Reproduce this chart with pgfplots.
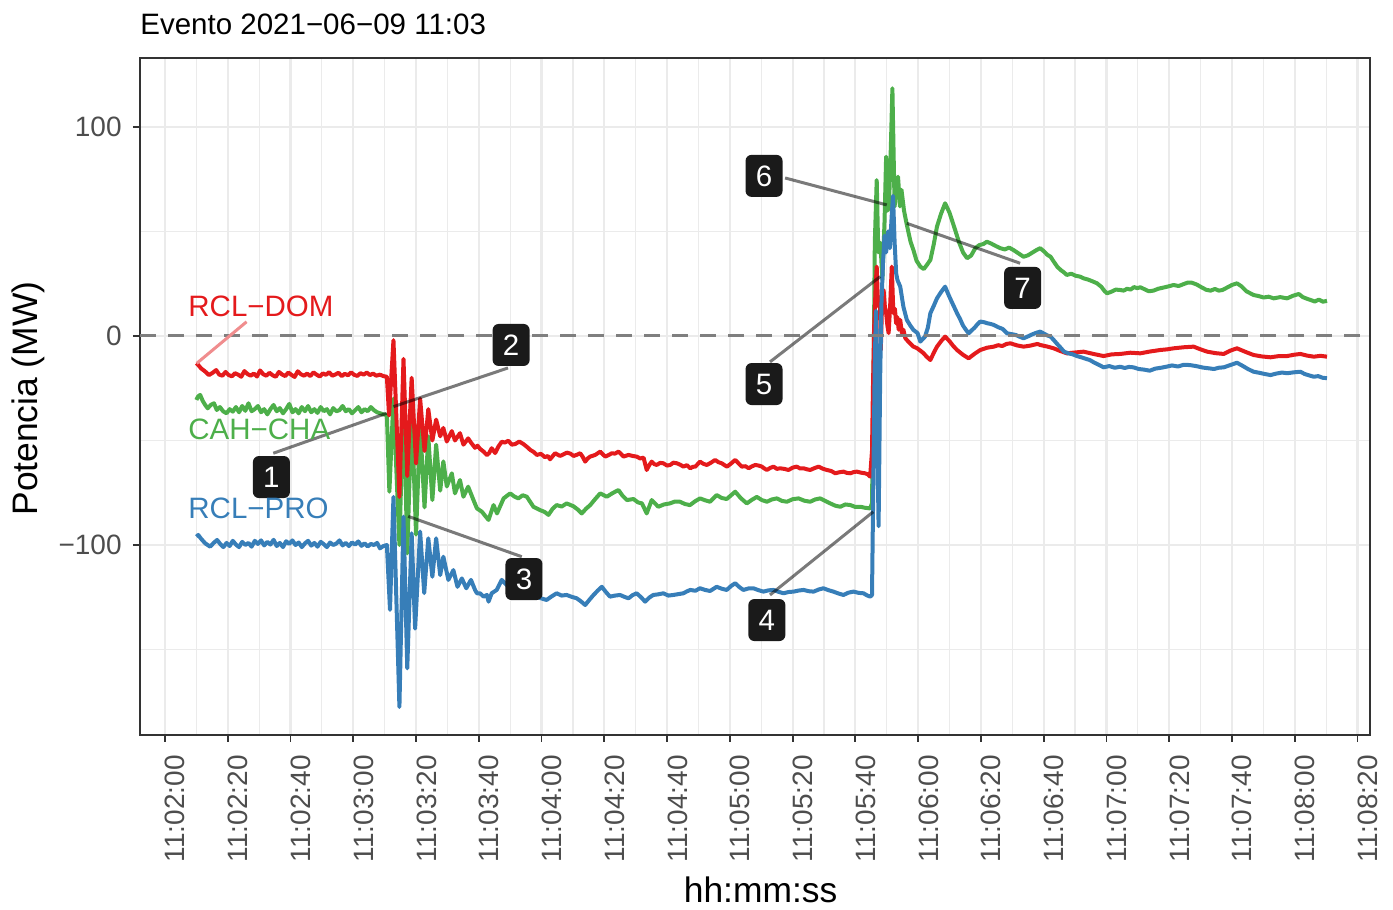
\documentclass[border=0pt]{standalone}
\usepackage{fontspec}
\setmainfont{Liberation Sans}
\usepackage{pgfplots}
\pgfplotsset{compat=1.18}
\definecolor{cred}{HTML}{E41A1C}
\definecolor{cblue}{HTML}{377EB8}
\definecolor{cgreen}{HTML}{4DAF4A}
\definecolor{gridc}{HTML}{EBEBEB}
\definecolor{grey20}{HTML}{333333}
\definecolor{grey30}{HTML}{4D4D4D}
\definecolor{grey50}{HTML}{7F7F7F}
\definecolor{boxc}{HTML}{1A1A1A}
\definecolor{lightred}{HTML}{F08D8E}

\pgfplotstableread{
s v
10.0 -13
10.6 -13.9
11.5 -15.5
12.8 -17
14.0 -18.7
15.3 -17.5
16.3 -16.3
17.3 -18.5
18.3 -19
19.3 -17.2
20.3 -18.7
21.3 -19.3
22.3 -17.8
23.3 -18.5
24.3 -19.5
25.3 -16.8
26.3 -18.2
27.3 -19
28.3 -18
29.3 -19.4
30.3 -16.5
31.3 -18.3
32.3 -19
33.3 -17.6
34.3 -18.8
35.3 -19.5
36.3 -17.2
37.3 -18.4
38.3 -19.2
39.3 -17.5
40.3 -18.6
41.3 -19.6
42.3 -16.9
43.3 -18.3
44.3 -19
45.3 -18
46.3 -19.2
47.3 -17.4
48.3 -18.5
49.3 -19.4
50.3 -17.9
51.3 -18.6
52.3 -17.3
53.3 -19
54.3 -18.4
55.3 -17.6
56.3 -19.2
57.3 -18.1
58.3 -18.8
59.3 -17.4
60.3 -18.6
61.3 -19.1
62.3 -17.8
63.3 -18.5
64.3 -17.5
65.3 -18.7
66.3 -18
67.3 -19
68.5 -18.5
69.6 -19.2
70.7 -19.5
71.4 -38
72.8 -2
74.7 -77
76.0 -11
77.2 -67
78.6 -20
80.0 -61
81.3 -30
82.7 -55
83.9 -35
85.2 -50
86.4 -40
87.7 -48
88.7 -44
89.8 -50.5
91.4 -45.5
92.4 -50
94.0 -46.5
95.1 -52
96.6 -49
97.5 -51
98.8 -53.5
99.6 -52.5
100.4 -54
101.5 -55.3
102.6 -57
103.3 -56
104.1 -53.7
105.2 -56
106.2 -53
107.3 -50.6
108.3 -51
109.4 -50.1
110.5 -52
111.6 -51.7
112.9 -50.5
114.2 -51.7
115.3 -53
116.4 -54.5
117.5 -55.5
118.5 -56.9
119.8 -56.4
121.1 -58
122.0 -57.4
122.7 -59
124.3 -56.1
125.9 -57.4
127.0 -56.6
128.1 -55.8
129.2 -56.3
130.2 -57.4
131.3 -56.8
132.3 -56.1
133.1 -57.8
133.9 -60.1
134.7 -58.6
135.5 -57.7
137.1 -56.9
138.7 -55.3
139.5 -56.6
140.3 -57.7
141.3 -57
142.4 -56.1
143.4 -56.3
144.5 -55.3
145.3 -56.4
146.1 -57.7
147.7 -56.9
149.0 -57.4
150.3 -57.7
151.4 -58.6
152.5 -58.2
153.5 -64.1
154.3 -61.8
155.1 -60.1
155.9 -61.3
156.7 -61.7
157.8 -60.7
158.8 -60.9
160.0 -62
161.0 -61.7
162.0 -60.6
163.1 -60.9
164.2 -61.6
165.2 -62.5
166.3 -61.8
167.4 -63.3
168.2 -62.6
169.0 -62.5
170.5 -60.1
171.6 -61.2
172.7 -61.7
174.0 -60.6
175.3 -59.3
176.4 -60.4
177.4 -60.9
178.3 -61.8
179.1 -62.5
180.4 -61
181.7 -59.3
182.8 -61
183.8 -62.5
185.0 -62.3
186.0 -63.3
187.0 -62.4
188.1 -61.7
189.2 -62
190.2 -62.5
191.0 -63.4
191.8 -64.1
192.9 -63.1
193.9 -62.5
195.0 -63.6
196.0 -63.3
197.4 -63.6
198.7 -64.1
200.0 -63
201.3 -62.5
202.4 -63.4
203.5 -63.3
204.6 -63.8
205.6 -64.1
207.0 -63.2
208.3 -62.5
209.6 -63.5
210.9 -64.1
212.3 -64.6
213.6 -65.7
214.9 -65.2
216.2 -64.9
217.3 -65.5
218.4 -65.7
219.5 -65.1
220.5 -64.9
221.8 -65.4
223.1 -65.7
224.0 -66.2
224.7 -67.3
225.3 -55
225.6 -25
226.0 5
226.5 25
226.8 33.2
227.1 20
227.4 14
227.8 18
228.1 -6.7
228.5 15
229.0 22
229.4 14
229.8 11
230.2 5
230.6 1.4
231.1 15
231.6 33.2
232.1 11
232.6 13
233.0 6
233.4 9
233.8 3
234.3 7.7
234.8 1.5
235.3 3
235.9 -1
236.4 -1.9
237.4 -3.5
238.5 -5.1
239.6 -5.8
240.7 -7
241.7 -8.2
242.7 -9.9
243.9 -11.5
245.0 -8
246.0 -5.1
247.3 -2.5
248.6 -0.3
250.0 -2.5
251.2 -4.8
252.4 -6.7
254.3 -9
256.1 -10.7
258.0 -8.5
259.8 -6.7
262.0 -5.6
264.1 -5.1
265.5 -4.4
266.8 -4.8
268.2 -3.8
269.4 -3.5
271.5 -4.5
273.6 -5.1
275.8 -4.6
278.0 -3.8
278.9 -4.3
281.0 -5
283.2 -5.9
285.3 -7.2
287.4 -8.3
290.0 -7.9
292.7 -7.5
295.9 -8.6
299.1 -9.6
301.7 -8.8
304.4 -8.6
307.6 -8
310.8 -8.3
314.0 -7.4
317.2 -6.7
319.3 -6.4
321.4 -5.9
324.6 -5.4
327.8 -5.1
330.0 -6.4
332.1 -7.5
334.7 -8.2
337.4 -8.6
339.5 -7
341.6 -5.9
344.3 -7.6
346.9 -9.1
349.6 -9.8
352.3 -10.2
355.0 -9.6
357.6 -9.6
359.7 -9
361.8 -8.6
364.0 -9.4
366.1 -9.9
368.2 -9.5
370.3 -9.9
}\reddata

\pgfplotstableread{
s v
10.0 -30.6
10.5 -29
11.2 -28.2
12.0 -31
12.8 -33
13.6 -34.6
14.6 -33
15.6 -32.2
16.5 -35.4
17.5 -34
18.5 -36
19.6 -37
20.6 -35
21.6 -36.2
22.6 -34
23.6 -36.5
24.6 -33.5
25.6 -35.8
26.6 -32.2
27.6 -36
28.6 -35
29.6 -33.5
30.6 -36.5
31.6 -35
32.6 -37.5
33.6 -35
34.6 -33
35.6 -36
36.6 -34.5
37.6 -37
38.6 -35
39.6 -32.5
40.6 -36.5
41.6 -35
42.6 -37
43.6 -34
44.6 -36
45.6 -33.5
46.6 -36.5
47.6 -35
48.6 -36.8
49.6 -34
50.6 -36
51.6 -35
52.6 -37.5
53.6 -34.5
54.6 -36
55.6 -35.5
56.6 -33.5
57.6 -36
58.6 -35
59.6 -37
60.6 -35.5
61.6 -34
62.6 -36.5
63.6 -35
64.6 -36
65.6 -34
66.6 -35.5
67.6 -36.5
68.6 -37
69.6 -37.5
70.7 -37.8
71.5 -74.5
72.8 -30
74.7 -100
76.0 -28
77.2 -104
78.6 -35
80.0 -95
81.3 -42
82.7 -82
83.9 -48
85.2 -78.5
86.4 -52
87.7 -74
88.7 -60
89.8 -72
91.4 -65.7
92.4 -75.3
94.0 -68.9
95.1 -76.9
96.6 -72.1
98.3 -78.5
99.4 -82.5
101.0 -84.1
102.0 -86
103.1 -88
104.7 -80.9
105.8 -84.9
107.9 -77.7
110.0 -75.3
111.3 -76.8
112.6 -77.7
114.0 -76.2
115.3 -76.9
117.4 -81.7
119.5 -83.3
121.0 -84.2
122.2 -85.6
123.5 -82.7
124.8 -80.9
126.4 -81.6
128.0 -80.1
130.2 -81.5
131.5 -83
132.8 -84.9
134.2 -82.6
135.5 -80.9
137.1 -78
138.7 -75.3
140.8 -76.9
142.6 -75.2
144.5 -73.7
145.8 -76.4
147.2 -78.5
149.3 -78
150.7 -79.6
152.0 -80.1
153.5 -84.9
155.1 -78.5
157.2 -81.7
159.0 -80.6
160.9 -80.1
162.5 -79.2
164.1 -79.3
165.7 -80.4
167.3 -80.9
168.9 -79.1
170.5 -77.7
172.1 -78.6
173.7 -79.3
175.8 -76.1
177.4 -77.5
179.0 -78
180.4 -76.2
181.7 -74.5
183.5 -77.6
185.4 -80.1
187.0 -78.4
188.6 -77
190.2 -78.5
191.8 -79.3
193.4 -78.2
195.0 -77.7
196.6 -78.9
198.2 -79.3
200.0 -78.1
201.9 -77.7
203.7 -78.8
205.6 -79.3
207.2 -78.2
208.8 -77.7
210.4 -78.9
212.0 -80.1
213.6 -81.2
215.2 -81.7
216.8 -80.6
218.4 -80.9
220.0 -81.8
221.6 -81.7
223.1 -82.2
224.7 -82.5
225.3 -80
225.8 -20
226.2 45
226.8 74.6
227.3 40
228.0 44.5
228.6 26.8
229.3 55
229.8 85.8
230.3 60
230.7 61.9
231.3 90
231.8 118.5
232.5 61.9
233.0 70
233.6 76.2
234.2 62
234.7 69.9
235.5 60
236.3 53.9
237.0 49
237.6 45
238.5 41.1
239.5 36
240.7 33.2
241.8 32
242.8 34
243.9 36.4
245.0 44
246.0 52.3
247.3 58.5
248.6 63.5
250.0 59
251.8 50.7
253.0 45
254.3 40
255.6 37.2
256.9 38.5
258.2 42
259.5 43.5
260.8 44
261.9 45.1
263.3 44.2
264.8 43
266.2 42
267.6 41.4
269.0 42.3
270.4 41.1
272.0 39.5
273.6 37.9
275.0 38.6
276.3 39.8
277.6 41
278.9 42
280.1 40.5
281.2 38.8
282.2 37.9
283.2 35.6
284.4 33
285.5 31.5
286.4 30.5
287.4 29.2
288.8 29.8
290.2 28.8
291.6 28.4
292.7 27.6
294.1 27
295.5 26.2
297.0 25.2
298.4 23.5
299.4 21.5
300.2 20.4
301.6 21.2
303.0 22.2
304.4 22
305.5 21.7
306.6 22.6
307.7 22.2
308.8 23.4
309.8 22.9
310.8 23.3
312.1 22.4
313.5 21.4
315.0 21.7
316.5 22.6
318.0 23.1
319.7 23.7
321.4 24.4
323.0 23.9
324.4 24.7
325.8 25.5
327.2 25.5
328.8 24.6
330.3 23.3
331.8 22.1
333.2 21.7
334.6 22.5
335.8 21.7
337.0 22
338.5 23.2
340.0 24.4
341.6 25.2
343.0 23.8
344.6 21.4
346.9 19.6
348.5 19.1
350.1 18.4
351.7 18.8
353.3 18
355.4 18.6
357.6 18
359.4 19.2
361.3 20.1
362.6 18.6
363.9 17.8
365.1 17.2
366.4 16.5
367.7 17.4
369.0 16.4
370.3 16.8
}\greendata

\pgfplotstableread{
s v
10.0 -96
10.6 -95.2
11.5 -97
12.8 -99.2
14.4 -100.8
15.5 -99
16.6 -97.6
17.6 -99.5
18.6 -101
19.6 -99
20.6 -100.5
21.6 -98
22.6 -99.8
23.6 -101
24.6 -98.5
25.6 -100
26.6 -99
27.6 -100.8
28.6 -98
29.6 -99.5
30.6 -97.8
31.6 -100.2
32.6 -98.5
33.6 -99.8
34.6 -97.5
35.6 -100.5
36.6 -99
37.6 -101
38.6 -98.2
39.6 -99.5
40.6 -97.8
41.6 -100
42.6 -98.8
43.6 -101
44.6 -99.2
45.6 -98
46.6 -100.3
47.6 -99
48.6 -100.8
49.6 -98.5
50.6 -99.6
51.6 -101
52.6 -98.8
53.6 -100
54.6 -99.3
55.6 -97.8
56.6 -100.2
57.6 -99
58.6 -100.5
59.6 -98.8
60.6 -99.8
61.6 -98.3
62.6 -100.4
63.6 -99.2
64.6 -100.7
65.6 -99.5
66.6 -100
67.6 -99
68.5 -101.6
69.6 -100.5
70.7 -100
71.7 -131
72.8 -77
74.7 -177.5
76.0 -86.4
77.2 -159
78.6 -94.4
79.7 -140
81.3 -93.6
82.6 -123
83.9 -96.8
85.2 -115.2
86.4 -96.8
87.7 -114.4
88.7 -105.6
90.3 -116.7
91.9 -112
93.2 -120
94.6 -116
96.0 -120.7
97.5 -116.7
98.8 -121.5
99.4 -123.1
100.4 -123.1
101.5 -124.7
102.6 -123.9
103.1 -127.1
104.1 -123.1
105.7 -121.5
107.3 -116.7
109.5 -120
111.0 -122
113.0 -124
115.5 -123
117.6 -124
119.6 -125.4
121.6 -126.3
123.2 -124.6
124.8 -123.1
126.4 -124.2
128.0 -123.9
129.6 -124.8
131.2 -125.5
132.5 -126.9
133.9 -128.7
135.2 -126.3
136.5 -124
137.9 -121.8
139.2 -120
140.5 -122.5
141.8 -124.7
143.4 -124.2
145.0 -123.9
146.4 -124.8
147.7 -125.5
149.0 -124
150.3 -123.1
151.7 -125
153.0 -127.1
154.3 -125.2
155.6 -123.9
157.2 -123.6
158.8 -123.1
160.4 -124.2
162.0 -123.9
163.6 -123.5
165.2 -123.1
166.3 -122.2
167.4 -121.5
169.0 -121.9
170.5 -120.7
172.1 -121.5
173.7 -122
175.8 -120
177.4 -120.9
179.0 -121.5
180.4 -119.6
181.7 -118.3
183.0 -120.1
184.3 -121.5
185.9 -120.8
187.5 -120.7
189.1 -121.6
190.7 -122.3
192.3 -121.7
193.9 -121.5
195.5 -122.4
197.1 -123.1
198.7 -122.5
200.3 -122.3
201.9 -121.8
203.5 -121.5
205.1 -122.1
206.7 -122.3
208.3 -121.3
209.8 -120.7
211.4 -121.6
213.0 -122.3
214.6 -123.2
216.2 -123.9
217.8 -122.8
219.4 -122.3
221.0 -122.9
222.6 -123.1
223.7 -124.1
224.7 -124.7
225.3 -124
225.8 -60
226.2 -10
226.6 12
227.0 -50
227.4 -91
227.9 -20
228.3 15
228.8 35
229.3 48
229.8 40
230.4 50
231.0 42
231.6 58
232.0 67
232.5 45
233.0 30
233.4 26.8
234.3 23.6
235.3 14
236.4 7.7
237.5 5
238.5 2.9
239.8 1.4
240.7 -2.7
242.2 -0.3
243.1 4
243.9 10.9
245.0 14.5
246.0 18
247.3 21
248.6 23.6
249.6 20
250.5 17
251.5 13.8
252.4 10.9
253.4 8
254.3 5
255.2 3
256.1 1.3
257.0 2.6
258.0 4
258.9 5.6
259.8 6.9
261.0 6.6
262.0 6.1
263.0 5.8
264.1 5.3
265.5 4.2
266.9 3.4
268.3 1.3
269.7 0.9
271.1 0.5
272.4 -0.4
273.6 -1.1
275.0 -0.2
276.4 0.8
277.6 1.5
278.9 2.1
280.0 1.2
281.1 0.3
282.2 -0.3
283.2 -1.9
284.3 -3.8
285.4 -5.6
286.5 -7.5
287.9 -8.3
289.3 -8.8
290.6 -9.6
292.0 -10.2
293.4 -10.9
294.7 -11.5
296.2 -12.8
297.6 -13.8
299.1 -15
300.9 -14.4
302.7 -15.2
304.4 -14.7
305.8 -15.3
307.2 -14.8
308.6 -15
310.3 -15.8
312.0 -16.1
313.8 -16.6
315.6 -15.6
317.4 -15.2
319.1 -14.7
320.9 -14.1
322.8 -14.6
324.6 -13.8
326.5 -13.9
328.6 -14.4
330.7 -15.1
332.8 -15.5
334.3 -15.8
335.8 -15.2
337.4 -15
339.5 -13.9
341.6 -12.8
343.3 -14.2
345.1 -15.8
346.9 -17.1
348.7 -17.6
350.5 -18.2
352.3 -18.7
354.1 -18
355.9 -17.5
357.6 -17.8
359.7 -17.4
361.8 -17.1
363.2 -18.2
364.7 -18.9
366.1 -19.5
367.5 -19.2
368.9 -20
370.3 -20.2
}\bluedata

\begin{document}
\begin{tikzpicture}
\useasboundingbox (0,0) rectangle (696.5pt,455pt);
\begin{axis}[
  at={(70pt,87.5pt)}, anchor=south west,
  scale only axis, width=615pt, height=338.5pt,
  xmin=-7.97, xmax=384.0, ymin=-190.9, ymax=133.0,
  axis line style={grey20, line width=0.9pt},
  xtick pos=bottom, ytick pos=left,
  tick align=outside, major tick length=3.5pt, minor tick length=0pt,
  tick style={grey20, line width=0.9pt},
  xtick={0,20,...,380},
  xticklabels={11:02:00,11:02:20,11:02:40,11:03:00,11:03:20,11:03:40,11:04:00,11:04:20,11:04:40,11:05:00,11:05:20,11:05:40,11:06:00,11:06:20,11:06:40,11:07:00,11:07:20,11:07:40,11:08:00,11:08:20},
  minor xtick={10,30,...,370},
  ytick={-100,0,100}, yticklabels={−100,0,100},
  minor ytick={-150,-50,50},
  grid=both,
  major grid style={gridc, line width=1.1pt},
  minor grid style={gridc, line width=0.55pt},
  xticklabel style={rotate=90, anchor=north east, inner sep=0pt, font=\fontsize{14}{16}\selectfont, text=grey30},
  yticklabel style={anchor=east, inner sep=0pt, font=\fontsize{14}{16}\selectfont, text=grey30},
  xticklabel shift=6.5pt, yticklabel shift=5.5pt,
  xlabel={hh:mm:ss},
  xlabel style={at={(axis description cs:0.5045,-0.2282)}, anchor=center, inner sep=0pt, font=\fontsize{17.7}{20}\selectfont},
  ylabel={Potencia (MW)},
  ylabel style={at={(axis description cs:-0.0911,0.497)}, anchor=center, inner sep=0pt, font=\fontsize{17.7}{20}\selectfont},
  title={Evento 2021−06−09 11:03},
  title style={at={(axis description cs:0,1.0177)}, anchor=base west, inner sep=0pt, font=\fontsize{14.75}{17}\selectfont},
  clip=true,
]
\addplot[cgreen, line width=2pt, line join=round] table[x=s,y=v] {\greendata};
\addplot[cred, line width=2pt, line join=round] table[x=s,y=v] {\reddata};
\addplot[cblue, line width=2pt, line join=round] table[x=s,y=v] {\bluedata};
\addplot[grey50, line width=1.5pt, dash pattern=on 8pt off 6pt] coordinates {(-7.97,0) (384,0)};

% connector segments
\draw[lightred, line width=1.5pt] (axis cs:26.0,6.8) -- (axis cs:10.1,-13.1);
\begin{scope}[black, opacity=0.52, line width=1.5pt]
\draw (axis cs:34.5,-56.1) -- (axis cs:70.6,-37.0);
\draw (axis cs:109.3,-15.3) -- (axis cs:72.8,-33.8);
\draw (axis cs:113.7,-105.6) -- (axis cs:77.5,-86.3);
\draw (axis cs:192.8,-123.9) -- (axis cs:225.7,-84.1);
\draw (axis cs:192.8,-12.4) -- (axis cs:227.9,28.4);
\draw (axis cs:197.6,75.6) -- (axis cs:230.0,62.7);
\draw (axis cs:272.5,34.8) -- (axis cs:236.4,53.9);
\end{scope}

% numbered boxes
\tikzset{numbox/.style={fill=boxc, text=white, rounded corners=3pt, inner sep=0pt, minimum width=18.5pt, minimum height=21pt, font=\fontsize{14.75}{17}\selectfont}}
\node[numbox] at (axis cs:33.9,-67.5) {1};
\node[numbox] at (axis cs:110.3,-4.3) {2};
\node[numbox] at (axis cs:114.4,-116.3) {3};
\node[numbox] at (axis cs:191.8,-135.9) {4};
\node[numbox] at (axis cs:190.9,-23.0) {5};
\node[numbox] at (axis cs:190.9,76.6) {6};
\node[numbox] at (axis cs:273.3,23.0) {7};

% series labels
\node[anchor=west, inner sep=0pt, text=cred, font=\fontsize{14.75}{17}\selectfont] at (axis cs:7.33,14.1) {RCL−DOM};
\node[anchor=west, inner sep=0pt, text=cgreen, font=\fontsize{14.75}{17}\selectfont] at (axis cs:7.33,-44.5) {CAH−CHA};
\node[anchor=west, inner sep=0pt, text=cblue, font=\fontsize{14.75}{17}\selectfont] at (axis cs:7.33,-82.3) {RCL−PRO};
\end{axis}
\end{tikzpicture}
\end{document}
